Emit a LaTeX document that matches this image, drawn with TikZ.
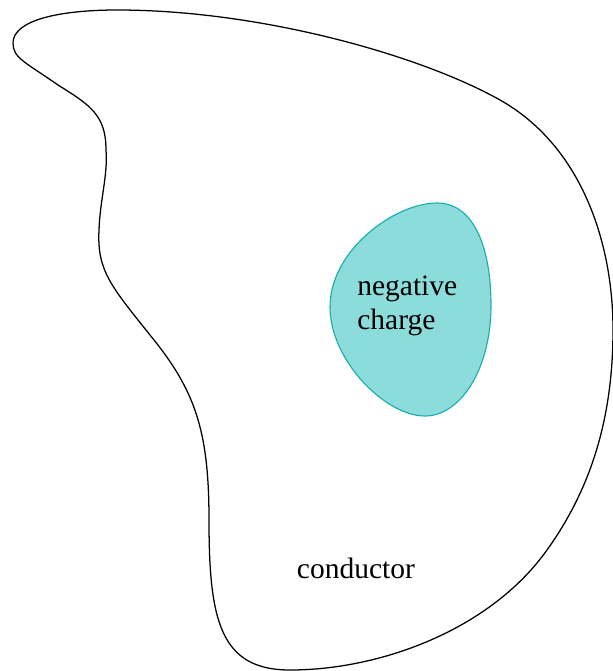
\documentclass[tikz,border=0pt]{standalone}
\usepackage{fontspec}
\setmainfont{Liberation Serif}
\definecolor{chargefill}{HTML}{8CDCDC}
\definecolor{chargeline}{HTML}{1AADAD}
\tikzset{
  label text/.style={font=\fontsize{21}{24}\selectfont, inner sep=0pt},
}
\begin{document}
\begin{tikzpicture}[x=0.025cm,y=-0.025cm]
  \useasboundingbox (0,0) rectangle (612,671);
  % conductor outline
  \draw[black,line width=0.9pt]
    (13,43) .. controls (13,20) and (60,10) .. (117,10)
    .. controls (260,10) and (420,55) .. (500,100)
    .. controls (580,145) and (613,240) .. (613,330)
    .. controls (613,420) and (590,490) .. (547,550)
    .. controls (490,630) and (380,670) .. (290,670)
    .. controls (220,670) and (209,620) .. (209,520)
    .. controls (209,430) and (195,390) .. (150,335)
    .. controls (110,285) and (97,270) .. (99,230)
    .. controls (100,200) and (108,175) .. (106,150)
    .. controls (106,115) and (90,105) .. (58,85)
    .. controls (25,62) and (13,58) .. cycle;
  % negative charge blob
  \draw[chargeline,fill=chargefill,line width=0.8pt]
    (437,203) .. controls (475,203) and (491,250) .. (491,305)
    .. controls (491,370) and (460,416) .. (425,416)
    .. controls (385,416) and (330,360) .. (330,307)
    .. controls (330,250) and (395,203) .. cycle;
  \node[label text,align=left,anchor=west] (charge) at (357,306) {negative\\charge};
  \node[label text] (conductor) at (356,568) {conductor};
\end{tikzpicture}
\end{document}
